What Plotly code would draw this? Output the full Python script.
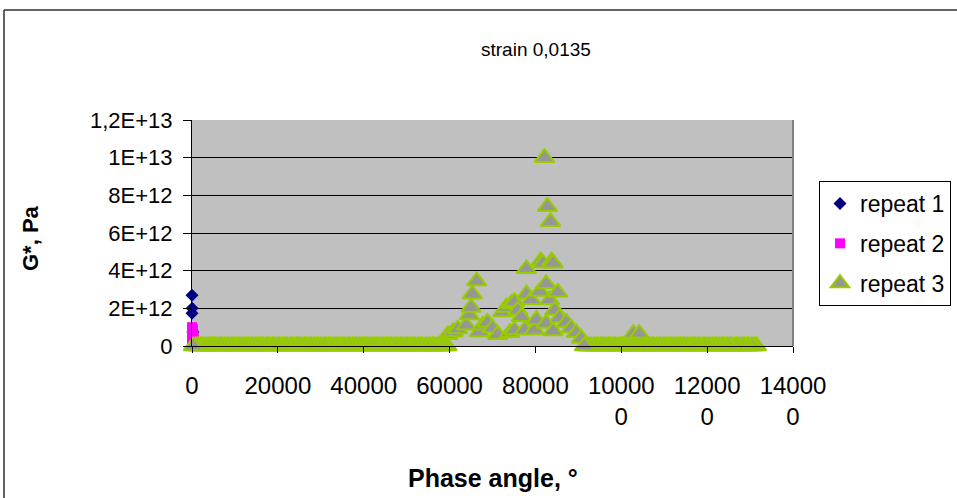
import plotly.graph_objects as go

# ---------------- data ----------------
# repeat 1 (phase angle, G* in Pa)
r1_x = [0, 50, 0, 200]
r1_y = [2.70e12, 2.00e12, 1.74e12, 0.75e12]

# repeat 2
r2_x = [0, 100, 0, 0, 200, 300, 100, 0, 200, 400, 0, 100]
r2_y = [0.25e12, 0.50e12, 0.75e12, 1.00e12, 0.90e12, 0.60e12, 0.35e12,
        0.95e12, 0.15e12, 0.40e12, 0.85e12, 0.10e12]

# repeat 3 - elevated cluster and small bumps
r3_peak_x = [59600, 60800, 61900, 63900, 64600, 65000, 65300, 66300, 66900, 67700,
             68800, 70000, 71200, 72400, 73200, 74000, 74400, 75100, 75100, 75900,
             76700, 77500, 77900, 77900, 79000, 79800, 80200, 81000, 81200, 81700,
             82100, 82500, 82500, 82800, 83300, 83500, 83800, 84100, 84100, 84500,
             85200, 85600, 87200, 88300, 89500, 90700, 102800, 104200]
r3_peak_y = [0.60e12, 0.75e12, 0.90e12, 1.10e12, 1.65e12, 2.05e12, 2.75e12, 3.45e12, 0.75e12, 1.10e12,
             1.25e12, 0.95e12, 0.60e12, 1.80e12, 2.05e12, 0.70e12, 2.25e12, 2.35e12, 0.85e12, 1.90e12,
             1.55e12, 0.85e12, 4.10e12, 2.75e12, 2.45e12, 0.85e12, 1.40e12, 2.90e12, 4.50e12, 4.40e12,
             10.0e12, 3.30e12, 1.20e12, 7.40e12, 2.45e12, 6.60e12, 4.50e12, 4.40e12, 0.80e12, 1.90e12,
             2.85e12, 1.50e12, 1.25e12, 0.95e12, 0.70e12, 0.40e12, 0.65e12, 0.65e12]

# repeat 3 - points lying on the zero line (listed in measurement order)
r3_base_x = [131500, 130900, 130400, 129700, 129200, 128600, 128100, 127500, 126900, 126400,
             125700, 125200, 124700, 124000, 123500, 122900, 122300, 121800, 121200, 120600,
             120100, 119500, 119000, 118300, 117800, 117200, 116700, 116100, 115500, 114900,
             114400, 113800, 113300, 112700, 112100, 111600, 111000, 110400, 109900, 109300,
             108800, 108200, 107600, 107100, 106500, 105900, 105400, 104800, 104300, 103700,
             103100, 102600, 102000, 101400, 100900, 100300, 99800, 99200, 98600, 98100,
             97500, 97000, 96400, 95800, 95300, 94700, 94100, 93600, 93000, 92500, 91900, 91400,
             59400, 58900, 58300, 57800, 57200, 56600, 56100, 55500, 54900, 54400,
             53700, 53200, 52600, 52000, 51500, 50900, 50300, 49800, 49200, 48700,
             48100, 47500, 47000, 46400, 45800, 45300, 44700, 44200, 43600, 43000,
             42500, 41900, 41300, 40800, 40200, 39700, 39100, 38500, 38000, 37400,
             36800, 36300, 35700, 35200, 34600, 34000, 33500, 32900, 32300, 31800,
             31200, 30700, 30100, 29500, 29000, 28400, 27800, 27300, 26700, 26200,
             25600, 25000, 24500, 23900, 23300, 22800, 22200, 21700, 21100, 20500,
             20000, 19400, 18800, 18300, 17700, 17200, 16600, 16000, 15500, 14900,
             14300, 13800, 13200, 12700, 12100, 11500, 11000, 10400, 9800, 9300,
             8700, 8200, 7600, 7000, 6500, 5900, 5300, 4800, 4200, 3700,
             3100, 2500, 2000, 1400, 900, 300]
r3_base_y = [0.0] * len(r3_base_x)

r3_x = r3_peak_x + r3_base_x
r3_y = r3_peak_y + r3_base_y

x_tickvals = [0, 20000, 40000, 60000, 80000, 100000, 120000, 140000]
x_ticktext = ["0", "20000", "40000", "60000", "80000", "10000<br>0", "12000<br>0", "14000<br>0"]
y_tickvals = [0, 2e12, 4e12, 6e12, 8e12, 1e13, 1.2e13]
y_ticktext = ["0", "2E+12", "4E+12", "6E+12", "8E+12", "1E+13", "1,2E+13"]

# ---------------- layout helpers ----------------
W, H = 957, 498
L, R, T, B = 192, 793, 120, 346   # plot area in pixels


def px(xp):
    return (xp - L) / (R - L)


def py(yp):
    return (B - yp) / (B - T)


FONT = "Arial, Liberation Sans, sans-serif"

fig = go.Figure()
fig.add_trace(go.Scatter(
    x=r1_x, y=r1_y, mode="markers", name="repeat 1", legendgroup="g1",
    marker=dict(symbol="diamond", size=10, color="#000080"), cliponaxis=False))
fig.add_trace(go.Scatter(
    x=r2_x, y=r2_y, mode="markers", name="repeat 2", legendgroup="g2",
    marker=dict(symbol="square", size=10, color="#FF00FF"), cliponaxis=False))
fig.add_trace(go.Scatter(
    x=r3_x, y=r3_y, mode="markers", name="repeat 3", legendgroup="g3",
    marker=dict(symbol="triangle-up", size=17, color="#969696",
                line=dict(color="#99CC00", width=2)), cliponaxis=False))

fig.update_layout(
    width=W, height=H,
    margin=dict(l=L, r=W - R, t=T, b=H - B, pad=0, autoexpand=False),
    paper_bgcolor="white", plot_bgcolor="#C0C0C0",
    font=dict(family=FONT, size=22, color="black"),
    showlegend=True,
    legend=dict(x=px(819), y=py(181), xanchor="left", yanchor="top",
                bgcolor="white", bordercolor="black", borderwidth=1,
                font=dict(size=23), tracegroupgap=7, itemwidth=30),
    xaxis=dict(range=[0, 140000], tickvals=x_tickvals, ticktext=x_ticktext,
               showgrid=False, zeroline=False, showline=True, linecolor="black",
               linewidth=1, ticks="outside", ticklen=6, tickcolor="black",
               tickfont=dict(size=24), ticklabelstandoff=12, automargin=False),
    yaxis=dict(range=[0, 1.2e13], tickvals=y_tickvals, ticktext=y_ticktext,
               showgrid=True, gridcolor="black", gridwidth=1, zeroline=False,
               showline=True, linecolor="black", linewidth=1, ticks="outside",
               ticklen=8, tickcolor="black", tickfont=dict(size=22),
               ticklabelstandoff=6, automargin=False),
)

# plot-area right border (grey)
fig.add_shape(type="line", xref="paper", yref="paper", x0=1, x1=1, y0=0, y1=1,
              line=dict(color="#808080", width=2))
# outer chart frame (left and top edges)
fig.add_shape(type="line", xref="paper", yref="paper", x0=px(4), x1=px(4),
              y0=py(10), y1=py(520), line=dict(color="#303030", width=1.5))
fig.add_shape(type="line", xref="paper", yref="paper", x0=px(4), x1=px(990),
              y0=py(10), y1=py(10), line=dict(color="#303030", width=1.5))

# title and axis titles
fig.add_annotation(text="strain 0,0135", xref="paper", yref="paper",
                   x=px(536), y=py(50), showarrow=False,
                   font=dict(size=19, family=FONT), xanchor="center", yanchor="middle")
fig.add_annotation(text="<b>Phase angle, °</b>", xref="paper", yref="paper",
                   x=px(493), y=py(478), showarrow=False,
                   font=dict(size=25, family=FONT), xanchor="center", yanchor="middle")
fig.add_annotation(text="<b>G*, Pa</b>", xref="paper", yref="paper",
                   x=px(30), y=py(238), showarrow=False, textangle=-90,
                   font=dict(size=22, family=FONT), xanchor="center", yanchor="middle")

fig.write_html("out.html", config={"displayModeBar": False},
               post_script="document.body.style.margin='0';")
